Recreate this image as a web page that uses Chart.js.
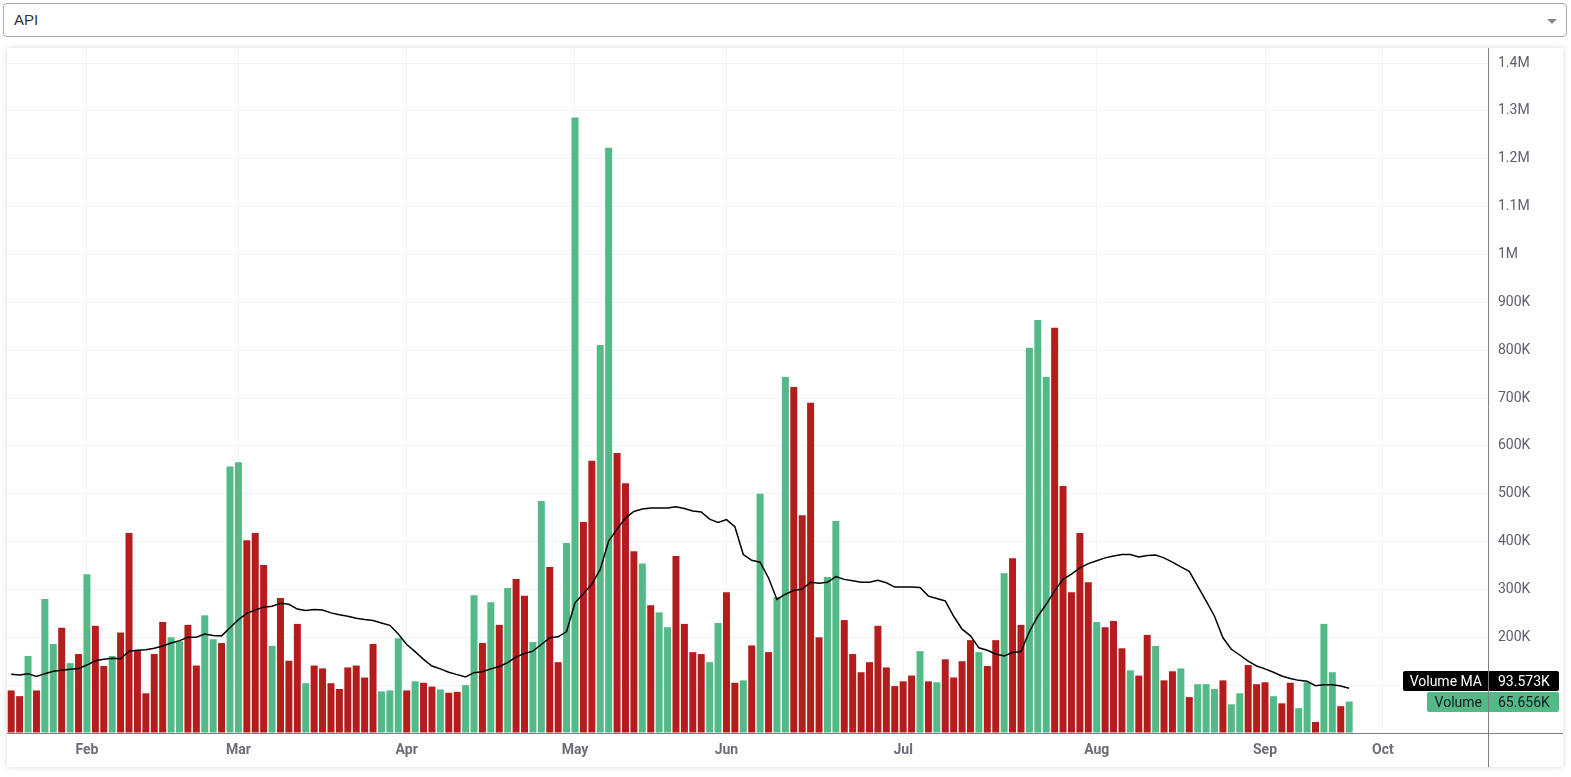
<!DOCTYPE html>
<html>
<head>
<meta charset="utf-8">
<script src="https://cdn.jsdelivr.net/npm/chart.js@4.4.1/dist/chart.umd.min.js"></script>
<style>
  html, body { margin: 0; padding: 0; background: #fff; width: 1571px; height: 777px; overflow: hidden; }
  #sel { position: absolute; left: 3px; top: 3px; width: 1564px; height: 34px; box-sizing: border-box;
         border: 1px solid #aaa; border-radius: 4px; background: #fff;
         font: 15px Arial, "Liberation Sans", sans-serif; color: #333; line-height: 32px; padding-left: 10px; }
  #sel .arrow { position: absolute; right: 9px; top: 15px; width: 0; height: 0;
         border-left: 5px solid transparent; border-right: 5px solid transparent; border-top: 5px solid #888; }
  #card { position: absolute; left: 7px; top: 48px; width: 1556px; height: 719px; background: #fff;
          box-shadow: 0 0 6px rgba(0,0,0,0.16); }
</style>
</head>
<body>
<div id="sel">API<span class="arrow"></span></div>
<div id="card"><canvas id="volChart"></canvas></div>
<script>
// --- DATA (volume in thousands) ---
const volume = [89, 77, 161, 89, 280, 186, 220, 146, 165, 332, 224, 140, 161, 210, 418, 173, 83, 165, 232, 200,
  192, 226, 141, 246, 196, 188, 557, 566, 403, 418, 351, 182, 282, 151, 228, 104, 141, 135, 104, 92,
  137, 141, 116, 186, 87, 89, 198, 89, 108, 105, 97, 91, 84, 86, 100, 288, 188, 273, 226, 303,
  322, 287, 190, 485, 347, 148, 397, 1286, 441, 569, 811, 1223, 585, 522, 380, 354, 267, 252, 221, 370,
  228, 169, 165, 148, 230, 294, 105, 110, 183, 500, 169, 284, 744, 723, 455, 690, 200, 326, 443, 236,
  165, 127, 148, 224, 137, 98, 108, 120, 171, 108, 106, 154, 116, 150, 194, 169, 140, 194, 334, 365,
  226, 805, 863, 744, 847, 516, 294, 418, 315, 232, 221, 234, 177, 131, 120, 205, 182, 110, 129, 135,
  75, 102, 102, 92, 110, 60, 83, 142, 102, 106, 77, 62, 105, 52, 106, 23, 228, 127, 56, 65.656];

// 1 = up day (green), 0 = down day (red)
const upDay = [0, 0, 1, 0, 1, 1, 0, 1, 0, 1, 0, 0, 1, 0, 0, 0, 0, 0, 0, 1,
  1, 0, 0, 1, 1, 0, 1, 1, 0, 0, 0, 1, 0, 0, 0, 1, 0, 0, 0, 0,
  0, 0, 0, 0, 1, 1, 1, 0, 1, 0, 0, 1, 0, 0, 1, 1, 0, 1, 0, 1,
  0, 0, 1, 1, 0, 0, 1, 1, 0, 0, 1, 1, 0, 0, 0, 1, 0, 1, 1, 0,
  0, 0, 0, 1, 1, 0, 0, 1, 0, 1, 0, 1, 1, 0, 0, 0, 0, 1, 1, 0,
  0, 0, 0, 0, 0, 0, 0, 0, 1, 0, 1, 0, 0, 0, 0, 1, 0, 0, 1, 0,
  0, 1, 1, 1, 0, 0, 0, 0, 0, 1, 0, 0, 0, 1, 0, 0, 1, 0, 0, 1,
  0, 1, 1, 1, 0, 1, 1, 0, 0, 0, 1, 0, 0, 1, 1, 0, 1, 1, 0, 1];

const volumeMA = [123, 121, 124, 118, 124, 129, 131, 133, 135, 142, 151, 154, 156, 155, 171, 173, 174, 177, 182, 188,
  193, 200, 200, 207, 204, 203, 220, 237, 250, 257, 263, 265, 271, 269, 259, 256, 258, 257, 251, 247,
  244, 240, 237, 235, 230, 225, 207, 185, 170, 154, 140, 134, 127, 122, 117, 126, 128, 134, 139, 147,
  159, 166, 171, 185, 199, 201, 212, 272, 291, 311, 342, 401, 426, 449, 463, 468, 470, 470, 470, 473,
  469, 464, 462, 447, 440, 446, 431, 373, 361, 357, 324, 279, 290, 298, 301, 315, 313, 315, 327, 321,
  318, 315, 315, 319, 314, 305, 305, 305, 304, 286, 281, 276, 244, 217, 203, 178, 173, 165, 161, 168,
  170, 212, 244, 269, 297, 321, 332, 345, 354, 360, 366, 370, 373, 373, 368, 371, 372, 366, 357, 347,
  338, 307, 276, 244, 199, 175, 163, 150, 140, 134, 127, 119, 114, 110, 108, 99, 101, 101, 98, 93.573];

const slotCount = 176;                       // trading-day slots incl. empty space on the right
const monthNames = ['Feb', 'Mar', 'Apr', 'May', 'Jun', 'Jul', 'Aug', 'Sep', 'Oct'];
const monthSlots = [9, 27, 47, 67, 85, 106, 129, 149, 163];
const yTicks = [0, 100, 200, 300, 400, 500, 600, 700, 800, 900, 1000, 1100, 1200, 1300, 1400];
const lastVolText = '65.656K';
const lastMAText = '93.573K';

const UP = '#52b987', DOWN = '#b51c1c';
const FONT = 'Roboto, "Trebuchet MS", sans-serif';

function fmtVol(v) {
  if (v >= 1000) return (v / 1000) + 'M';
  return v + 'K';
}

// axis lines + last value labels (TradingView style)
const overlay = {
  id: 'overlay',
  afterDraw(chart) {
    const { ctx, chartArea: a, width, height } = chart;
    const y = chart.scales.y;
    ctx.save();
    const volY = Math.round(y.getPixelForValue(volume[volume.length - 1]));
    const maY = Math.min(Math.round(y.getPixelForValue(volumeMA[volumeMA.length - 1])), volY - 21);
    const tags = [
      { t: 'Volume MA', v: lastMAText, y: maY, bg: '#000', fg: '#fff', w: 85 },
      { t: 'Volume', v: lastVolText, y: volY, bg: UP, fg: '#131722', w: 61 }
    ];
    ctx.font = '14px ' + FONT;
    ctx.textBaseline = 'middle';
    tags.forEach(g => {
      ctx.fillStyle = g.bg;
      ctx.beginPath(); ctx.roundRect(a.right - g.w, g.y - 10, g.w, 20, [2, 0, 0, 2]); ctx.fill();
      ctx.beginPath(); ctx.roundRect(a.right + 1, g.y - 10, 70, 20, [0, 2, 2, 0]); ctx.fill();
      ctx.fillStyle = g.fg;
      ctx.textAlign = 'right'; ctx.fillText(g.t, a.right - 6, g.y + 1);
      ctx.textAlign = 'left'; ctx.fillText(g.v, a.right + 10, g.y + 1);
    });
    ctx.strokeStyle = '#7c7f88';
    ctx.lineWidth = 1;
    ctx.beginPath();
    ctx.moveTo(0, Math.round(a.bottom) + 0.5); ctx.lineTo(width, Math.round(a.bottom) + 0.5);
    ctx.moveTo(Math.round(a.right) + 0.5, 0); ctx.lineTo(Math.round(a.right) + 0.5, height);
    ctx.stroke();
    ctx.restore();
  }
};

const ctx = document.getElementById('volChart');
new Chart(ctx.getContext('2d'), {
  type: 'bar',
  data: {
    labels: Array.from({ length: slotCount }, (_, i) => String(i)),
    datasets: [
      { type: 'line', label: 'Volume MA', data: volumeMA, borderColor: '#000', borderWidth: 1.5,
        pointRadius: 0, tension: 0, order: 0 },
      { type: 'bar', label: 'Volume', data: volume, order: 1,
        backgroundColor: upDay.map(u => u ? UP : DOWN),
        barPercentage: 0.83, categoryPercentage: 1 }
    ]
  },
  options: {
    responsive: true, maintainAspectRatio: false, animation: false,
    layout: { padding: 0 },
    plugins: { legend: { display: false }, tooltip: { enabled: false } },
    scales: {
      x: {
        offset: true,
        grid: { offset: false, drawTicks: false,
          color: c => (c.tick && monthSlots.includes(c.index)) ? '#f0f3fa' : 'rgba(0,0,0,0)' },
        border: { display: false },
        ticks: { autoSkip: false, maxRotation: 0, padding: 9, color: '#6a6d78',
          font: { family: FONT, size: 14, weight: 'bold' },
          callback: (v, i) => { const k = monthSlots.indexOf(i); return k >= 0 ? monthNames[k] : ''; } },
        afterFit: s => { s.height = 34; s.paddingLeft = 0; s.paddingRight = 0; }
      },
      y: {
        position: 'right', min: 0, max: 1431.5,
        grid: { drawTicks: false, color: c => (c.tick && c.tick.value > 0) ? '#f0f3fa' : 'rgba(0,0,0,0)' },
        border: { display: false },
        ticks: { padding: 10, color: '#5d606b', font: { family: FONT, size: 14 },
          callback: v => (v <= 100 ? '' : fmtVol(v)) },
        afterBuildTicks: s => { s.ticks = yTicks.map(v => ({ value: v })); },
        afterFit: s => { s.width = 75; s.paddingTop = 0; s.paddingBottom = 0; }
      }
    }
  },
  plugins: [overlay]
});
</script>
</body>
</html>
